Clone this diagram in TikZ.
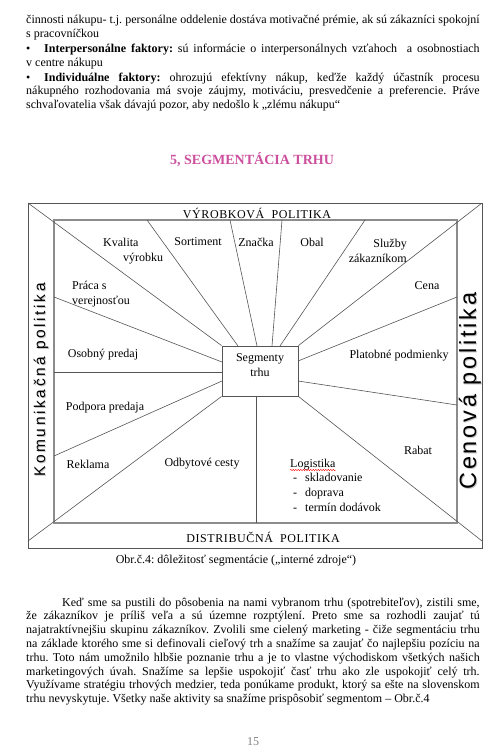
\documentclass[tikz,border=0pt]{standalone}
\usepackage{fontspec}
\setmainfont{Liberation Serif}
\newfontfamily\sidefont{Liberation Sans}
\usetikzlibrary{decorations.pathmorphing}
\definecolor{headpink}{RGB}{204,80,158}
\definecolor{linegray}{RGB}{85,85,85}
\definecolor{framegray}{RGB}{140,140,140}
\frenchspacing

\begin{document}
\begin{tikzpicture}[x=1pt, y=-1pt,
    txt/.style={font=\fontsize{12}{13.4}\selectfont, inner sep=0pt},
    para/.style={txt, text width=453.5pt, align=justify, anchor=base west},
    lbl/.style={txt, font=\fontsize{12}{15}\selectfont},
    band/.style={txt, font=\fontsize{12}{14}\selectfont\addfontfeature{LetterSpace=5}},
    side/.style={inner sep=0pt, rotate=90},
    spoke/.style={draw=linegray, line width=0.6pt},
    segbox/.style={draw=linegray, line width=0.8pt, fill=white, minimum width=76pt, minimum height=50pt}]
  \useasboundingbox (0,0) rectangle (502,751);
  \fill[white] (0,0) rectangle (502,751);

  % text above the figure
  \node[para] (p1) at (26,24) {činnosti nákupu- t.j. personálne oddelenie dostáva motivačné prémie, ak sú zákazníci spokojní\linebreak s~pracovníčkou};
  \node[para] (p2) at (26,53) {\makebox[18pt][l]{•}\textbf{Interpersonálne faktory:} sú informácie o~interpersonálnych vzťahoch\ \ a~osobnostiach\linebreak v~centre nákupu};
  \node[para] (p3) at (26,81.5) {\makebox[18pt][l]{•}\textbf{Individuálne faktory:} ohrozujú efektívny nákup, keďže každý účastník procesu\linebreak nákupného rozhodovania má svoje záujmy, motiváciu, presvedčenie a~preferencie. Práve\linebreak schvaľovatelia však dávajú pozor, aby nedošlo k~„zlému nákupu“};

  \node[txt, font=\fontsize{14}{16}\selectfont\bfseries, text=headpink] (title) at (252,160) {5, SEGMENTÁCIA TRHU};

  % frame
  \coordinate (O1) at (28,203);
  \coordinate (O2) at (482,203);
  \coordinate (O3) at (482,548);
  \coordinate (O4) at (28,548);
  \coordinate (I1) at (54,220);
  \coordinate (I3) at (457,523);
  \coordinate (D3) at (28,541);
  \coordinate (D4) at (482,541);

  \draw[draw=linegray, line width=0.9pt] (O1) rectangle (O3);
  \draw[draw=framegray, line width=1.4pt] (I1) rectangle (I3);

  \node[segbox] (S) at (260,371) {};

  % diagonals
  \draw[spoke] (O1) -- (S.north west);
  \draw[spoke] (O2) -- (S.north east);
  \draw[spoke] (D3) -- (S.south west);
  \draw[spoke] (D4) -- (S.south east);

  % spokes
  \coordinate (t1) at (147,220);
  \coordinate (t2) at (230,220);
  \coordinate (t3) at (282,220);
  \coordinate (t4) at (365,220);
  \coordinate (r1) at (457,297);
  \coordinate (r2) at (457,405);
  \coordinate (b1) at (256,523);
  \coordinate (l1) at (54,297);
  \coordinate (l2) at (54,372);
  \coordinate (l3) at (54,456);

  \coordinate (s1) at (238,346);
  \coordinate (s2) at (257,346);
  \coordinate (s3) at (272,346);
  \coordinate (s4) at (280,346);
  \coordinate (s5) at (298,361);
  \coordinate (s6) at (298,381);
  \coordinate (s7) at (256,396);
  \coordinate (s8) at (222,362);
  \coordinate (s9) at (222,372);
  \coordinate (s10) at (222,381);

  \draw[spoke] (t1) -- (s1);
  \draw[spoke] (t2) -- (s2);
  \draw[spoke] (t3) -- (s3);
  \draw[spoke] (t4) -- (s4);
  \draw[spoke] (r1) -- (s5);
  \draw[spoke] (r2) -- (s6);
  \draw[spoke] (b1) -- (s7);
  \draw[spoke] (l1) -- (s8);
  \draw[spoke] (l2) -- (s9);
  \draw[spoke] (l3) -- (s10);

  \node[lbl, align=center] (segtxt) at (260,365) {Segmenty\\trhu};

  % band titles
  \node[band] (vyr) at (257,213) {VÝROBKOVÁ\ \ POLITIKA};
  \node[band] (dis) at (263,537) {DISTRIBUČNÁ\ \ POLITIKA};

  \node[side, text=gray!45, font=\fontsize{15.5}{16}\sidefont\addfontfeature{LetterSpace=17}] (komsh) at (42,381) {Komunikačná politika};
  \node[side, font=\fontsize{15.5}{16}\sidefont\addfontfeature{LetterSpace=17}] (kom) at (41,380) {Komunikačná politika};
  \node[side, text=gray!45, font=\fontsize{23.5}{24}\sidefont\addfontfeature{LetterSpace=12}] (censh) at (471,392) {Cenová politika};
  \node[side, font=\fontsize{23.5}{24}\sidefont\addfontfeature{LetterSpace=12}] (cen) at (470,391) {Cenová politika};

  % labels
  \node[lbl, align=left, anchor=west] (kv) at (103,251) {Kvalita\\\hspace*{20pt}výrobku};
  \node[lbl] (sort) at (198,242) {Sortiment};
  \node[lbl] (zn) at (256,242) {Značka};
  \node[lbl] (obal) at (312,242) {Obal};
  \node[lbl, align=right, anchor=east] (sluz) at (407,251) {Služby\\zákazníkom};
  \node[lbl] (cena) at (427,286) {Cena};
  \node[lbl] (plat) at (399,356) {Platobné podmienky};
  \node[lbl] (rab) at (418,450) {Rabat};
  \node[lbl, align=left, anchor=west] (pr) at (72,294) {Práca s\\verejnosťou};
  \node[lbl] (os) at (103,355) {Osobný predaj};
  \node[lbl] (pod) at (105,408) {Podpora predaja};
  \node[lbl] (rek) at (88,464) {Reklama};
  \node[lbl] (odb) at (202,464) {Odbytové cesty};
  \node[lbl, anchor=base west] (lg) at (290,467) {Logistika};
  \draw[red, line width=0.4pt, decorate, decoration={snake, amplitude=0.7pt, segment length=2.5pt}]
    ([yshift=-3pt]lg.base west) -- ([yshift=-3pt]lg.base east);
  \node[lbl, anchor=north west] (lgl) at (293,471) {\begin{tabular}{@{}l@{\hspace{8pt}}l@{}}
      - & skladovanie\\
      - & doprava\\
      - & termín dodávok
    \end{tabular}};

  \node[txt] (cap) at (236,561) {Obr.č.4: dôležitosť segmentácie („interné zdroje“)};

  % text below the figure
  \node[para, font=\fontsize{12}{13.8}\selectfont] (p4) at (26,606) {\hspace*{36pt}Keď sme sa pustili do pôsobenia na nami vybranom trhu (spotrebiteľov), zistili sme,\linebreak že zákazníkov je príliš veľa a~sú územne rozptýlení. Preto sme sa rozhodli zaujať tú\linebreak najatraktívnejšiu skupinu zákazníkov. Zvolili sme cielený marketing - čiže segmentáciu trhu\linebreak na základe ktorého sme si definovali cieľový trh a~snažíme sa zaujať čo najlepšiu pozíciu na\linebreak trhu. Toto nám umožnilo hlbšie poznanie trhu a~je to vlastne východiskom všetkých našich\linebreak marketingových úvah. Snažíme sa lepšie uspokojiť časť trhu ako zle uspokojiť celý trh.\linebreak Využívame stratégiu trhových medzier, teda ponúkame produkt, ktorý sa ešte na slovenskom\linebreak trhu nevyskytuje. Všetky naše aktivity sa snažíme prispôsobiť segmentom – Obr.č.4};

  \node[txt, text=gray] (pg) at (253,742) {15};
\end{tikzpicture}
\end{document}
